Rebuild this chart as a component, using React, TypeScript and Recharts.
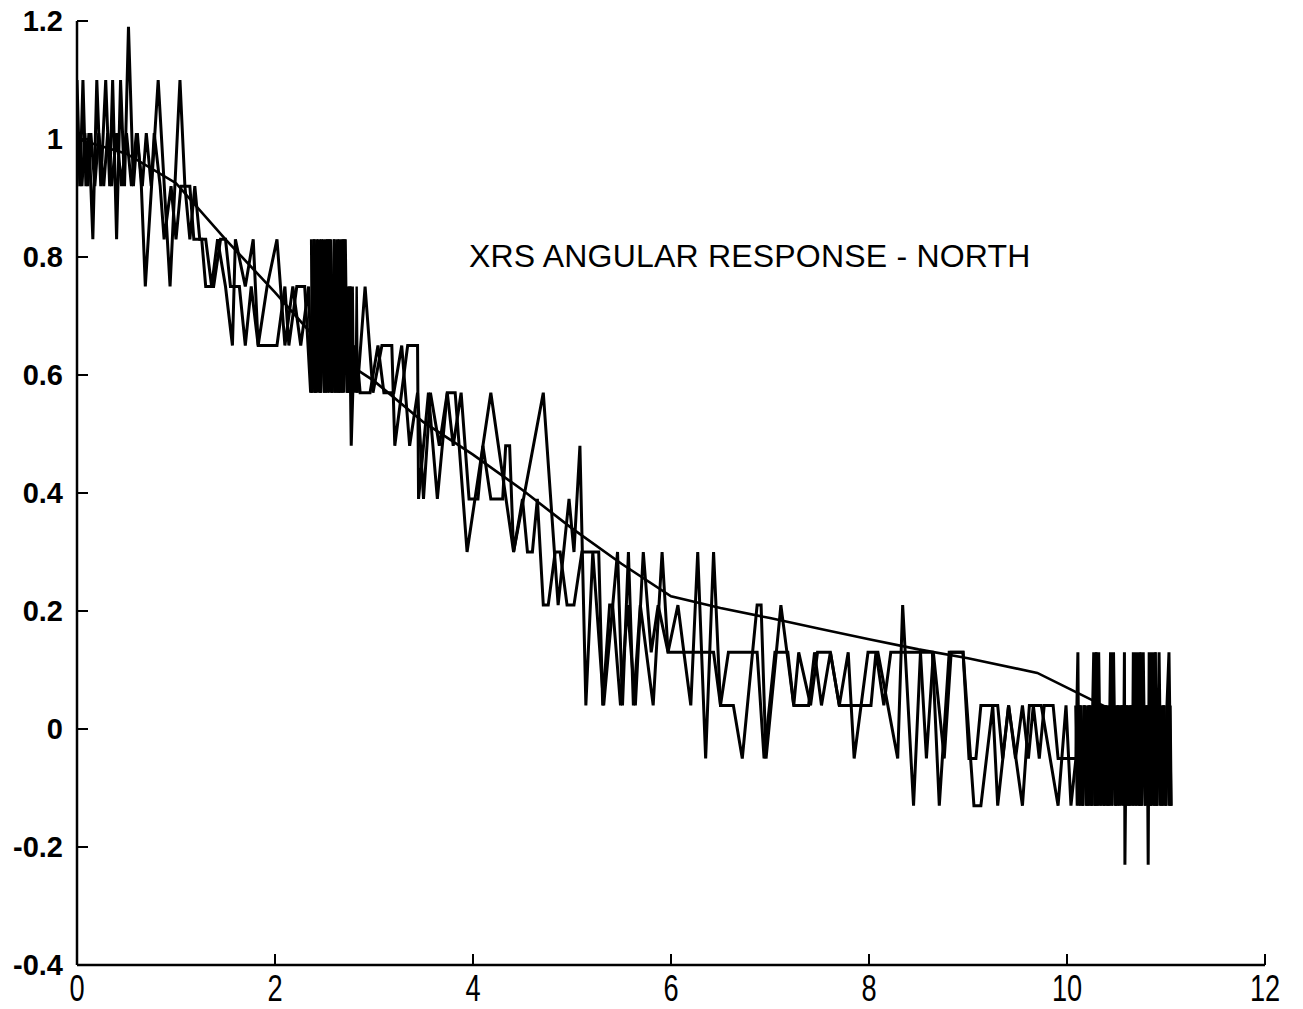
import { LineChart, Line, XAxis, YAxis } from 'recharts';

// Smoothed angular response (normalised counts vs. angle, degrees)
const responseFit: [number, number][] = [
  [0, 1.0], [0.5, 0.975], [1.0, 0.925], [1.5, 0.83], [2.0, 0.74], [2.5, 0.645],
  [3.0, 0.59], [3.5, 0.52], [4.0, 0.465], [4.5, 0.405], [5.0, 0.34], [5.5, 0.28],
  [6.0, 0.225], [6.5, 0.205], [7.0, 0.188], [7.5, 0.17], [8.0, 0.152], [8.5, 0.135],
  [9.0, 0.12], [9.7, 0.095], [10.0, 0.07], [10.3, 0.045], [10.6, 0.02],
];

// First scan, raw quantised samples
const scanA: [number, number][] = [
  [0.0, 1.1], [0.03, 0.92], [0.06, 1.1], [0.09, 0.92], [0.12, 1.01], [0.16, 0.83],
  [0.2, 1.1], [0.24, 0.92], [0.29, 1.1], [0.33, 0.92], [0.36, 1.1], [0.4, 0.83],
  [0.44, 1.1], [0.48, 0.92], [0.52, 1.19], [0.57, 0.92], [0.61, 1.01], [0.65, 0.92],
  [0.69, 0.75], [0.82, 1.1], [0.94, 0.75], [1.04, 1.1], [1.09, 0.92], [1.14, 0.83],
  [1.19, 0.92], [1.24, 0.83], [1.3, 0.83], [1.36, 0.75], [1.42, 0.83], [1.5, 0.75],
  [1.57, 0.65], [1.6, 0.83], [1.7, 0.75], [1.78, 0.83], [1.83, 0.65], [1.92, 0.75],
  [2.02, 0.83], [2.1, 0.65], [2.18, 0.75], [2.26, 0.65], [2.34, 0.75],
  [2.37, 0.57], [2.39, 0.83], [2.41, 0.57], [2.43, 0.75], [2.45, 0.57], [2.47, 0.83],
  [2.49, 0.65], [2.51, 0.83], [2.53, 0.57], [2.55, 0.83], [2.57, 0.57], [2.59, 0.75],
  [2.61, 0.57], [2.63, 0.83], [2.65, 0.57], [2.67, 0.83], [2.69, 0.65], [2.71, 0.83],
  [2.73, 0.57], [2.75, 0.75], [2.77, 0.48], [2.8, 0.65], [2.83, 0.57],
  [2.91, 0.75], [2.99, 0.57], [3.08, 0.65], [3.18, 0.65], [3.21, 0.48], [3.34, 0.65],
  [3.44, 0.65], [3.45, 0.39], [3.55, 0.57], [3.64, 0.39], [3.74, 0.57], [3.82, 0.57],
  [3.94, 0.3], [4.18, 0.57], [4.41, 0.3], [4.71, 0.57], [4.86, 0.21], [4.97, 0.39],
  [5.02, 0.3], [5.08, 0.48], [5.14, 0.04], [5.21, 0.3], [5.32, 0.04], [5.46, 0.3],
  [5.51, 0.04], [5.57, 0.3], [5.62, 0.04], [5.69, 0.21], [5.82, 0.04], [5.91, 0.3],
  [5.97, 0.13], [6.13, 0.13], [6.2, 0.04], [6.27, 0.3], [6.35, -0.05], [6.43, 0.3],
  [6.5, 0.04], [6.63, 0.04], [6.72, -0.05], [6.87, 0.21], [6.91, 0.21], [6.96, -0.05],
  [7.11, 0.21], [7.24, 0.04], [7.29, 0.13], [7.41, 0.04], [7.48, 0.13], [7.61, 0.13],
  [7.7, 0.04], [7.79, 0.13], [7.85, -0.05], [7.99, 0.13], [8.09, 0.13], [8.29, -0.05],
  [8.34, 0.21], [8.45, -0.13], [8.52, 0.13], [8.64, 0.13], [8.71, -0.13], [8.81, 0.13],
  [8.95, 0.13], [9.06, -0.13], [9.13, -0.13], [9.25, 0.04], [9.3, -0.13], [9.41, 0.04],
  [9.55, -0.13], [9.62, 0.04], [9.74, 0.04], [9.91, -0.13], [9.99, 0.04], [10.04, -0.13],
  [10.09, -0.05],
  [10.11, 0.13], [10.12, -0.13], [10.14, 0.04], [10.16, -0.13], [10.18, 0.04], [10.2, -0.13],
  [10.22, 0.04], [10.24, -0.13], [10.27, 0.13], [10.28, -0.13], [10.3, 0.13], [10.31, -0.13],
  [10.32, 0.13], [10.34, -0.13], [10.36, 0.04], [10.38, -0.13], [10.4, 0.04], [10.42, -0.13],
  [10.44, 0.13], [10.45, -0.13], [10.47, 0.13], [10.49, -0.13], [10.51, 0.04], [10.53, -0.13],
  [10.55, 0.04], [10.57, -0.13], [10.58, 0.13], [10.585, -0.23], [10.6, 0.04], [10.62, -0.13],
  [10.64, 0.04], [10.66, -0.13], [10.67, 0.13], [10.69, -0.13], [10.7, 0.13], [10.72, -0.13],
  [10.73, 0.13], [10.75, -0.13], [10.77, 0.13], [10.79, -0.13], [10.81, 0.04], [10.82, -0.23],
  [10.83, 0.13], [10.85, -0.13], [10.86, 0.13], [10.88, -0.13], [10.89, 0.13], [10.91, -0.13],
  [10.93, 0.13], [10.95, -0.13], [10.97, 0.04], [10.99, -0.13], [11.01, 0.04], [11.03, 0.13],
  [11.05, -0.13],
];

// Second scan, raw quantised samples
const scanB: [number, number][] = [
  [0.0, 0.92], [0.02, 1.01], [0.05, 0.92], [0.08, 1.01], [0.11, 0.92], [0.14, 1.01],
  [0.18, 0.92], [0.22, 1.01], [0.27, 0.92], [0.31, 1.01], [0.35, 0.92], [0.4, 1.01],
  [0.45, 0.92], [0.5, 1.01], [0.55, 0.92], [0.6, 1.01], [0.66, 0.92], [0.7, 1.01],
  [0.75, 0.92], [0.78, 1.01], [0.84, 0.92], [0.88, 0.83], [0.95, 0.92], [1.0, 0.83],
  [1.05, 0.92], [1.14, 0.92], [1.18, 0.83], [1.26, 0.83], [1.3, 0.75], [1.38, 0.75],
  [1.45, 0.83], [1.5, 0.83], [1.55, 0.75], [1.64, 0.75], [1.7, 0.65], [1.76, 0.75],
  [1.83, 0.65], [2.02, 0.65], [2.1, 0.75], [2.14, 0.65], [2.22, 0.75], [2.3, 0.75],
  [2.36, 0.57],
  [2.38, 0.75], [2.4, 0.57], [2.42, 0.83], [2.44, 0.65], [2.46, 0.57], [2.48, 0.75],
  [2.5, 0.57], [2.52, 0.65], [2.54, 0.83], [2.56, 0.65], [2.58, 0.57], [2.6, 0.83],
  [2.62, 0.65], [2.64, 0.57], [2.66, 0.75], [2.68, 0.57], [2.7, 0.83], [2.72, 0.65],
  [2.74, 0.57], [2.76, 0.75], [2.78, 0.57], [2.82, 0.65],
  [2.86, 0.57], [2.96, 0.57], [3.04, 0.65], [3.1, 0.57], [3.2, 0.57], [3.28, 0.65],
  [3.36, 0.48], [3.44, 0.57], [3.5, 0.39], [3.57, 0.57], [3.66, 0.48], [3.74, 0.57],
  [3.8, 0.48], [3.88, 0.57], [3.96, 0.39], [4.05, 0.39], [4.1, 0.48], [4.18, 0.39],
  [4.3, 0.39], [4.33, 0.48], [4.37, 0.48], [4.41, 0.3], [4.5, 0.39], [4.55, 0.3],
  [4.6, 0.3], [4.65, 0.39], [4.71, 0.21], [4.76, 0.21], [4.83, 0.3], [4.88, 0.3],
  [4.95, 0.21], [5.02, 0.21], [5.1, 0.3], [5.27, 0.3], [5.31, 0.04], [5.38, 0.21],
  [5.41, 0.21], [5.49, 0.04], [5.56, 0.21], [5.64, 0.04], [5.72, 0.3], [5.8, 0.13],
  [5.87, 0.21], [5.97, 0.13], [6.07, 0.21], [6.13, 0.13], [6.2, 0.13], [6.27, 0.13],
  [6.43, 0.13], [6.5, 0.04], [6.58, 0.13], [6.72, 0.13], [6.87, 0.13], [6.94, -0.05],
  [7.05, 0.13], [7.18, 0.13], [7.24, 0.04], [7.31, 0.04], [7.39, 0.04], [7.45, 0.13],
  [7.52, 0.04], [7.61, 0.13], [7.7, 0.04], [8.02, 0.04], [8.07, 0.13], [8.15, 0.04],
  [8.22, 0.13], [8.29, 0.13], [8.4, 0.13], [8.52, 0.13], [8.58, -0.05], [8.65, 0.13],
  [8.76, -0.05], [8.83, 0.13], [8.95, 0.13], [9.01, -0.05], [9.08, -0.05], [9.13, 0.04],
  [9.3, 0.04], [9.35, -0.05], [9.41, 0.04], [9.48, -0.05], [9.55, 0.04], [9.61, -0.05],
  [9.66, 0.04], [9.72, -0.05], [9.77, 0.04], [9.86, 0.04], [9.91, -0.05], [10.09, -0.05],
  [10.1, -0.05], [10.13, 0.04], [10.15, -0.13], [10.17, 0.04], [10.19, -0.05], [10.21, -0.13],
  [10.23, 0.04], [10.25, -0.13], [10.26, 0.04], [10.29, -0.13], [10.33, 0.04], [10.35, -0.05],
  [10.37, -0.13], [10.39, 0.04], [10.41, -0.13], [10.43, 0.04], [10.46, -0.05], [10.48, 0.04],
  [10.5, -0.13], [10.52, 0.04], [10.54, -0.05], [10.56, 0.04], [10.59, -0.13], [10.61, 0.04],
  [10.63, -0.13], [10.65, 0.04], [10.68, -0.05], [10.71, 0.04], [10.74, -0.13], [10.76, 0.04],
  [10.78, -0.05], [10.8, 0.04], [10.84, -0.13], [10.87, 0.04], [10.9, -0.13], [10.92, 0.04],
  [10.94, -0.05], [10.96, -0.13], [10.98, 0.04], [11.0, -0.13], [11.02, 0.04], [11.04, -0.13],
];

// Dwell bursts near 2.6 deg and at the end of the sweep
const dwellEarly: [number, number][] = [
  [2.365, 0.83], [2.375, 0.57], [2.385, 0.65], [2.395, 0.83], [2.405, 0.57], [2.415, 0.75],
  [2.425, 0.57], [2.435, 0.83], [2.445, 0.65], [2.455, 0.83], [2.465, 0.57], [2.475, 0.65],
  [2.485, 0.83], [2.495, 0.57], [2.505, 0.75], [2.515, 0.57], [2.525, 0.83], [2.535, 0.65],
  [2.545, 0.57], [2.555, 0.75], [2.565, 0.83], [2.575, 0.57], [2.585, 0.65], [2.595, 0.83],
  [2.605, 0.57], [2.615, 0.75], [2.625, 0.57], [2.635, 0.65], [2.645, 0.83], [2.655, 0.57],
  [2.665, 0.75], [2.675, 0.57], [2.685, 0.83], [2.695, 0.57], [2.705, 0.65], [2.715, 0.75],
  [2.725, 0.57], [2.735, 0.75], [2.745, 0.57], [2.755, 0.65], [2.765, 0.75], [2.775, 0.57],
  [2.785, 0.75], [2.795, 0.57], [2.805, 0.65], [2.815, 0.57], [2.825, 0.75], [2.835, 0.57],
];

const dwellLate: [number, number][] = [
  [10.085, 0.04], [10.1, -0.13], [10.115, 0.04], [10.13, -0.13], [10.145, -0.05], [10.16, -0.13],
  [10.175, 0.04], [10.19, -0.13], [10.205, 0.04], [10.22, -0.13], [10.235, 0.04], [10.25, -0.13],
  [10.265, 0.04], [10.28, -0.13], [10.295, 0.13], [10.31, -0.13], [10.325, 0.04], [10.34, -0.13],
  [10.355, 0.04], [10.37, -0.13], [10.385, 0.04], [10.4, -0.13], [10.415, -0.05], [10.43, -0.13],
  [10.445, 0.04], [10.46, -0.13], [10.475, 0.04], [10.49, -0.13], [10.505, 0.04], [10.52, -0.13],
  [10.535, 0.04], [10.55, -0.13], [10.565, 0.04], [10.58, -0.13], [10.595, 0.04], [10.61, -0.13],
  [10.625, 0.04], [10.64, -0.13], [10.655, 0.04], [10.67, -0.13], [10.685, 0.04], [10.7, -0.13],
  [10.715, 0.04], [10.73, -0.13], [10.745, 0.13], [10.76, -0.13], [10.775, 0.04], [10.79, -0.13],
  [10.805, 0.04], [10.82, -0.13], [10.835, 0.04], [10.85, -0.13], [10.865, 0.04], [10.88, -0.13],
  [10.895, 0.13], [10.91, -0.13], [10.925, 0.04], [10.94, -0.13], [10.955, 0.04], [10.97, -0.13],
  [10.985, 0.04], [11.0, -0.13], [11.015, 0.04], [11.03, -0.13], [11.045, 0.04], [11.055, -0.13],
];

const xTicks = [0, 2, 4, 6, 8, 10, 12];
const yTicks = [-0.4, -0.2, 0, 0.2, 0.4, 0.6, 0.8, 1, 1.2];
const title = 'XRS ANGULAR RESPONSE - NORTH';

const toPoints = (pts: [number, number][]) => pts.map(([x, y]) => ({ x, y }));

const TICK_MARGIN = 14;
const TICK_LEN = 11;

// tick label outside, tick mark pointing into the plot
function YTick(props: any) {
  const { x, y, payload } = props;
  const axisX = x + TICK_MARGIN;
  return (
    <g>
      <line x1={axisX} x2={axisX + TICK_LEN} y1={y} y2={y} stroke="#000" strokeWidth={2} />
      <text x={x} y={y} dy={10} textAnchor="end" fontFamily="'Liberation Sans', Arial, sans-serif"
        fontWeight="bold" fontSize={29} fill="#000">
        {String(payload.value)}
      </text>
    </g>
  );
}

function XTick(props: any) {
  const { x, y, payload } = props;
  const axisY = y - TICK_MARGIN;
  return (
    <g>
      <line x1={x} x2={x} y1={axisY} y2={axisY - TICK_LEN} stroke="#000" strokeWidth={2} />
      <text transform={`translate(${x},${axisY + 36}) scale(0.8,1.1)`} textAnchor="middle"
        fontFamily="'Liberation Sans', Arial, sans-serif" fontSize={34} fill="#000">
        {String(payload.value)}
      </text>
    </g>
  );
}

export default function App() {
  return (
    <div style={{ position: 'absolute', left: 0, top: 0, width: 1303, height: 1009, background: '#fff' }}>
      <LineChart width={1303} height={1009} margin={{ top: 21, right: 38, bottom: 0, left: 0 }}>
        <XAxis dataKey="x" type="number" domain={[0, 12]} ticks={xTicks} height={44}
          tickSize={0} tickMargin={TICK_MARGIN} tick={<XTick />} interval={0}
          axisLine={{ stroke: '#000', strokeWidth: 2.5 }} allowDataOverflow />
        <YAxis type="number" domain={[-0.4, 1.2]} ticks={yTicks} width={77}
          tickSize={0} tickMargin={TICK_MARGIN} tick={<YTick />} interval={0}
          axisLine={{ stroke: '#000', strokeWidth: 2.5 }} allowDataOverflow />
        <Line data={toPoints(scanA)} dataKey="y" type="linear" stroke="#000" strokeWidth={3}
          dot={false} isAnimationActive={false} />
        <Line data={toPoints(scanB)} dataKey="y" type="linear" stroke="#000" strokeWidth={3}
          dot={false} isAnimationActive={false} />
        <Line data={toPoints(dwellEarly)} dataKey="y" type="linear" stroke="#000" strokeWidth={2.4}
          dot={false} isAnimationActive={false} />
        <Line data={toPoints(dwellLate)} dataKey="y" type="linear" stroke="#000" strokeWidth={2.4}
          dot={false} isAnimationActive={false} />
        <Line data={toPoints(responseFit)} dataKey="y" type="linear" stroke="#000" strokeWidth={2.6}
          dot={false} isAnimationActive={false} />
      </LineChart>
      <div style={{ position: 'absolute', left: 469, top: 238, fontFamily: "'Liberation Sans', Arial, sans-serif",
        fontSize: 32, color: '#000', whiteSpace: 'nowrap', letterSpacing: 0.2 }}>
        {title}
      </div>
    </div>
  );
}
